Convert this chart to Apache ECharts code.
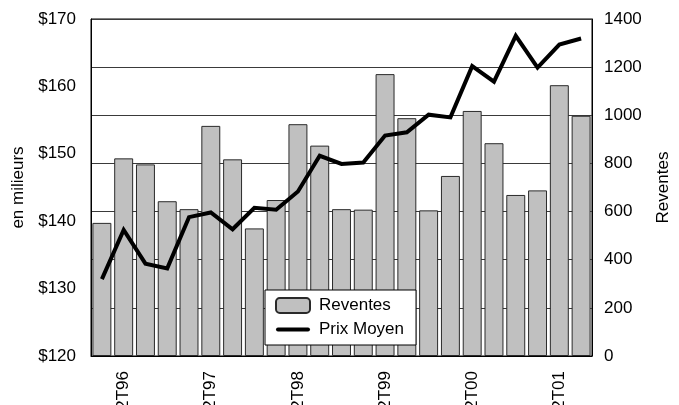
<!DOCTYPE html>
<html>
<head>
<meta charset="utf-8">
<script src="https://cdn.jsdelivr.net/npm/echarts@6/dist/echarts.min.js"></script>
<style>
  html, body { margin: 0; padding: 0; background: #fff; }
  #chart { width: 679px; height: 405px; }
</style>
</head>
<body>
<div id="chart"></div>
<script>
// Quarterly periods, 1T96 .. 3T01
const quarters = [
  '1T96', '2T96', '3T96', '4T96',
  '1T97', '2T97', '3T97', '4T97',
  '1T98', '2T98', '3T98', '4T98',
  '1T99', '2T99', '3T99', '4T99',
  '1T00', '2T00', '3T00', '4T00',
  '1T01', '2T01', '3T01'
];

// Number of resales per quarter (right axis)
const reventes = [
  553, 821, 796, 643,
  610, 956, 817, 530,
  648, 963, 874, 610,
  608, 1171, 988, 605,
  748, 1018, 884, 669,
  688, 1125, 998
];

// Average price, in thousands of dollars (left axis)
const prixMoyen = [
  131.4, 138.7, 133.7, 133.0,
  140.6, 141.3, 138.8, 142.0,
  141.7, 144.4, 149.7, 148.5,
  148.7, 152.7, 153.2, 155.8,
  155.4, 163.0, 160.7, 167.5,
  162.8, 166.2, 167.1
];

const FONT = '"Liberation Sans", Arial, sans-serif';

const chart = echarts.init(document.getElementById('chart'), null, { renderer: 'canvas' });

chart.setOption({
  animation: false,
  backgroundColor: '#ffffff',
  textStyle: { fontFamily: FONT, color: '#000' },
  grid: {
    left: 91, top: 19, width: 501, height: 337,
    outerBoundsMode: 'none',
    containLabel: false,
    show: true, borderColor: '#000', borderWidth: 1, backgroundColor: 'transparent'
  },
  legend: {
    orient: 'vertical',
    left: 265, top: 290,
    backgroundColor: '#fff',
    borderColor: '#000',
    borderWidth: 1,
    borderRadius: 0,
    padding: [7, 12, 7, 10],
    itemWidth: 34,
    itemHeight: 15,
    itemGap: 7,
    textStyle: { fontFamily: FONT, fontSize: 17, color: '#000', padding: [0, 0, 0, 4] },
    data: [
      { name: 'Reventes' },
      // plain thick stroke, no marker
      { name: 'Prix Moyen', icon: 'path://M2,0 H32 A2,2 0 0 1 32,4 H2 A2,2 0 0 1 2,0 Z' }
    ]
  },
  xAxis: {
    type: 'category',
    data: quarters,
    boundaryGap: true,
    axisLine: { show: true, lineStyle: { color: '#000', width: 1 } },
    axisTick: { show: false },
    axisLabel: {
      rotate: 90,
      margin: 15,
      fontFamily: FONT,
      fontSize: 17,
      color: '#000',
      interval: function (idx) { return idx % 4 === 1; }
    },
    splitLine: { show: false }
  },
  yAxis: [
    {
      type: 'value',
      position: 'left',
      min: 120, max: 170, interval: 10,
      name: 'en milieurs',
      nameLocation: 'middle',
      nameRotate: 90,
      nameGap: 57,
      nameTextStyle: { fontFamily: FONT, fontSize: 17, color: '#000' },
      axisLine: { show: true, lineStyle: { color: '#000', width: 1 } },
      axisTick: { show: false },
      axisLabel: {
        margin: 15, fontFamily: FONT, fontSize: 17, color: '#000',
        formatter: function (v) { return '$' + v; }
      },
      splitLine: { show: false }
    },
    {
      type: 'value',
      position: 'right',
      min: 0, max: 1400, interval: 200,
      name: 'Reventes',
      nameLocation: 'middle',
      nameRotate: 90,
      nameGap: 63,
      nameTextStyle: { fontFamily: FONT, fontSize: 17, color: '#000' },
      axisLine: { show: true, lineStyle: { color: '#000', width: 1 } },
      axisTick: { show: false },
      axisLabel: {
        margin: 12, fontFamily: FONT, fontSize: 17, color: '#000',
        formatter: function (v) { return String(v); }
      },
      splitLine: { show: true, lineStyle: { color: '#3a3a3a', width: 1 } }
    }
  ],
  series: [
    {
      name: 'Reventes',
      type: 'bar',
      yAxisIndex: 1,
      data: reventes,
      barCategoryGap: '13%',
      itemStyle: { color: '#c0c0c0', borderColor: '#2a2a2a', borderWidth: 1 },
      z: 2
    },
    {
      name: 'Prix Moyen',
      type: 'line',
      yAxisIndex: 0,
      data: prixMoyen,
      symbol: 'none',
      lineStyle: { color: '#000', width: 4, join: 'miter' },
      itemStyle: { color: '#000' },
      z: 3
    }
  ]
});
</script>
</body>
</html>
